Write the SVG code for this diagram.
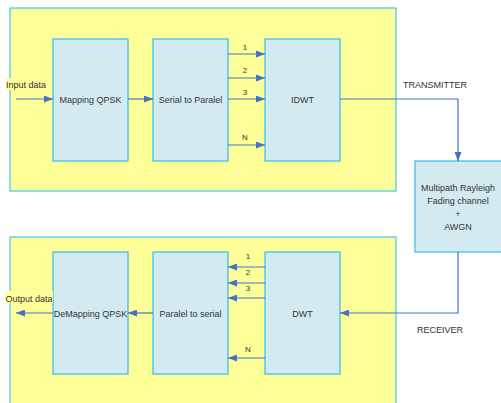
<svg xmlns="http://www.w3.org/2000/svg" width="501" height="403" viewBox="0 0 501 403">
<style>
.panel{fill:#FFFF99;stroke:#33CCEE;stroke-width:1.2}
.blk{fill:#D3EBF0;stroke:#33BBEE;stroke-width:1.2}
.t{font-family:"Liberation Sans",Arial,sans-serif;font-size:9px;fill:#333;text-anchor:middle}
.s{font-family:"Liberation Sans",Arial,sans-serif;font-size:8px;fill:#333;text-anchor:middle}
.ln{stroke:#4472C4;stroke-width:1.2;fill:none}
.hl{fill:#FFFF99}
</style>
<defs>
<marker id="ah" markerWidth="9" markerHeight="7" refX="9" refY="3.5" orient="auto" markerUnits="userSpaceOnUse">
<path d="M0,0 L9,3.5 L0,7 Z" fill="#4472C4"/>
</marker>
</defs>
<g id="transmitter-panel"><rect class="panel" x="10" y="8" width="386" height="183"/></g>
<g id="receiver-panel"><rect class="panel" x="10" y="237" width="386" height="175"/></g>
<g id="mapping"><rect class="blk" x="53" y="39" width="75" height="122"/><text class="t" x="90.5" y="103">Mapping QPSK</text></g>
<g id="s2p"><rect class="blk" x="153" y="39" width="75" height="122"/><text class="t" x="190.5" y="103">Serial to Paralel</text></g>
<g id="idwt"><rect class="blk" x="265" y="39" width="75" height="122"/><text class="t" x="302.5" y="103">IDWT</text></g>
<g id="channel"><rect class="blk" x="415" y="161" width="92" height="91"/>
<text class="t" x="458" y="191">Multipath Rayleigh</text>
<text class="t" x="458" y="204">Fading channel</text>
<text class="t" x="458" y="217">+</text>
<text class="t" x="458" y="230">AWGN</text></g>
<g id="demapping"><rect class="blk" x="53" y="252" width="75" height="122"/><text class="t" x="90.5" y="317">DeMapping QPSK</text></g>
<g id="p2s"><rect class="blk" x="153" y="252" width="75" height="122"/><text class="t" x="190.5" y="317">Paralel to serial</text></g>
<g id="dwt"><rect class="blk" x="265" y="252" width="75" height="122"/><text class="t" x="302.5" y="317">DWT</text></g>
<g id="labels">
<rect class="hl" x="6" y="78" width="40" height="12"/>
<text class="t" x="26" y="88">Input data</text>
<rect class="hl" x="5" y="291" width="48" height="12"/>
<text class="t" x="29" y="302">Output data</text>
<text class="t" x="435" y="88">TRANSMITTER</text>
<text class="t" x="440" y="333">RECEIVER</text>
</g>
<g id="connectors">
<line class="ln" x1="16" y1="99" x2="53" y2="99" marker-end="url(#ah)"/>
<line class="ln" x1="128" y1="99" x2="153" y2="99" marker-end="url(#ah)"/>
<line class="ln" x1="228" y1="54" x2="265" y2="54" marker-end="url(#ah)"/>
<line class="ln" x1="228" y1="78" x2="265" y2="78" marker-end="url(#ah)"/>
<line class="ln" x1="228" y1="99" x2="265" y2="99" marker-end="url(#ah)"/>
<line class="ln" x1="228" y1="145" x2="265" y2="145" marker-end="url(#ah)"/>
<text class="s" x="245" y="50">1</text>
<text class="s" x="245" y="73">2</text>
<text class="s" x="245" y="95">3</text>
<text class="s" x="245" y="140">N</text>
<polyline class="ln" points="340,99 458,99 458,161" marker-end="url(#ah)"/>
<polyline class="ln" points="458,252 458,313 340,313" marker-end="url(#ah)"/>
<line class="ln" x1="265" y1="267" x2="228" y2="267" marker-end="url(#ah)"/>
<line class="ln" x1="265" y1="283" x2="228" y2="283" marker-end="url(#ah)"/>
<line class="ln" x1="265" y1="298" x2="228" y2="298" marker-end="url(#ah)"/>
<line class="ln" x1="265" y1="358" x2="228" y2="358" marker-end="url(#ah)"/>
<text class="s" x="248" y="259">1</text>
<text class="s" x="248" y="275">2</text>
<text class="s" x="248" y="291">3</text>
<text class="s" x="248" y="352">N</text>
<line class="ln" x1="153" y1="313" x2="128" y2="313" marker-end="url(#ah)"/>
<line class="ln" x1="53" y1="313" x2="16" y2="313" marker-end="url(#ah)"/>
</g>
</svg>
